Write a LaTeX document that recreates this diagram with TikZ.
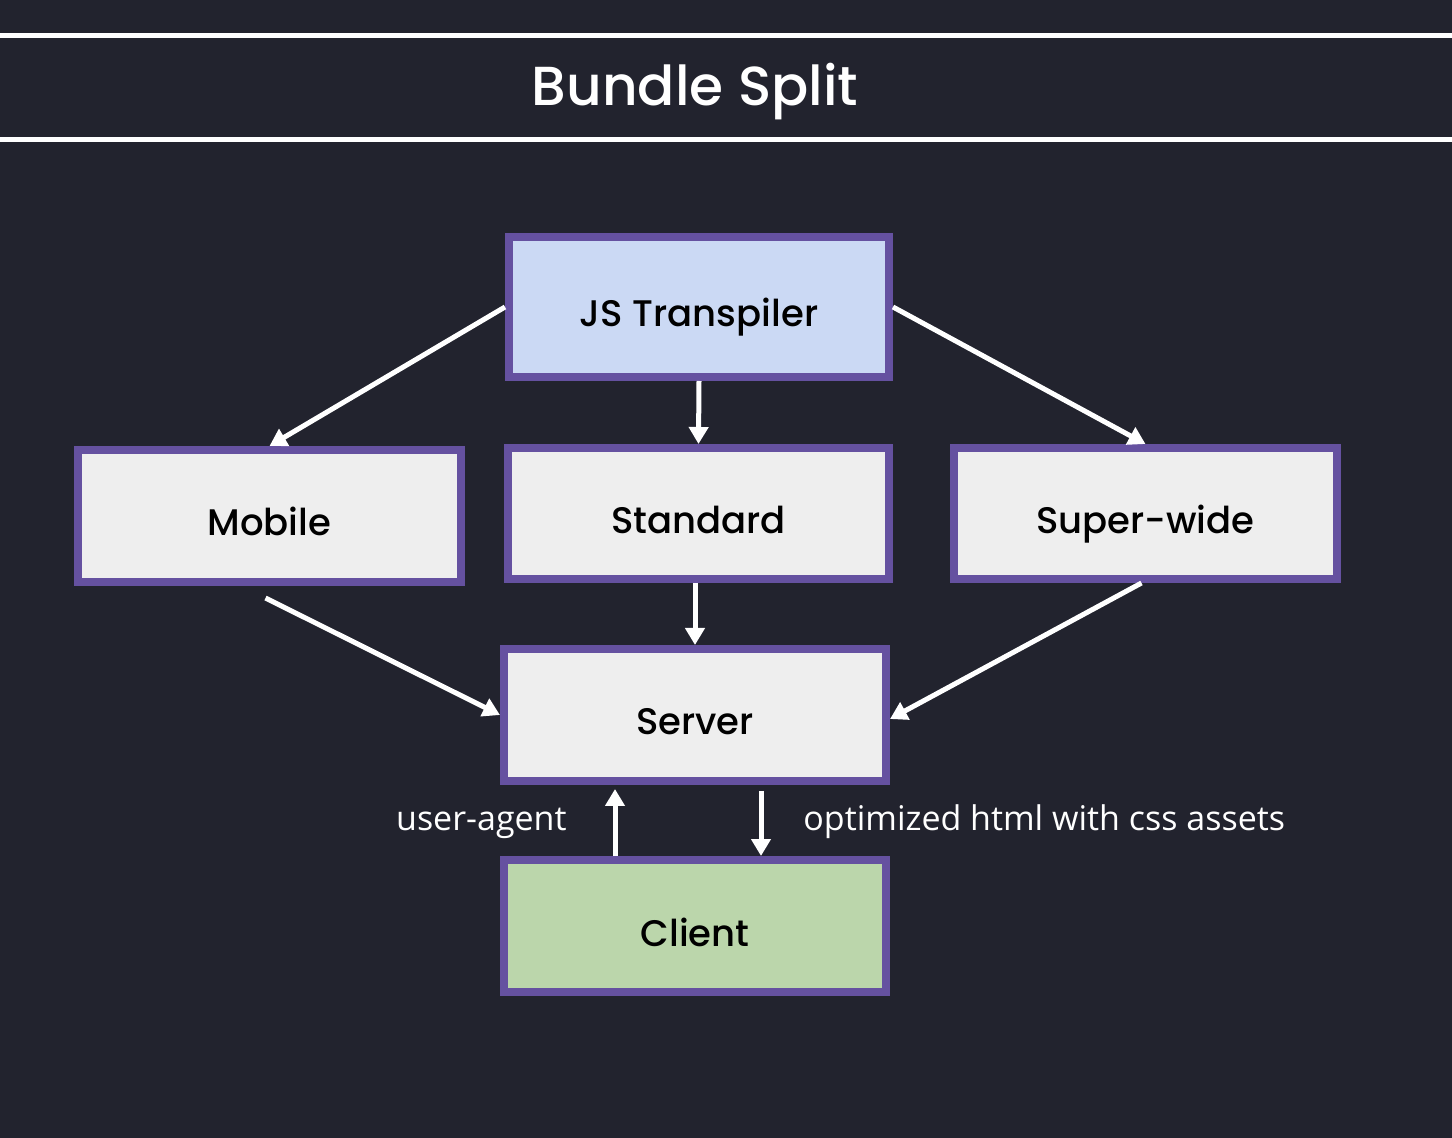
\documentclass[tikz,border=0pt]{standalone}
\usepackage{fontspec}
\setmainfont{Poppins}
\newfontfamily\medfont{Poppins Medium}
\newfontfamily\labelfont{Open Sans}
\usetikzlibrary{arrows.meta}
\definecolor{bg}{RGB}{34,35,46}
\definecolor{border}{RGB}{101,81,160}
\definecolor{bluefill}{RGB}{203,217,244}
\definecolor{greyfill}{RGB}{238,238,238}
\definecolor{greenfill}{RGB}{187,214,171}
\tikzset{
  box/.style={draw=border, line width=4pt, inner sep=0pt, text height=20pt, text depth=0pt,
    font=\medfont\fontsize{18.5}{22}\selectfont, text=black},
  conn/.style={draw=white, line width=2.5pt, -{Triangle[length=8.5pt,width=9.5pt]}},
  lbl/.style={text=white, font=\labelfont\fontsize{17}{20}\selectfont, inner sep=0pt}
}
\begin{document}
\begin{tikzpicture}[x=0.5pt,y=-0.5pt]
\fill[bg] (0,0) rectangle (1452,1138);
\useasboundingbox (0,0) rectangle (1452,1138);
\draw[white, line width=2.5pt] (0,35.5) -- (1452,35.5);
\draw[white, line width=2.5pt] (0,139.5) -- (1452,139.5);
\node[text=white, font=\medfont\fontsize{27.5}{32}\selectfont, anchor=base, inner sep=0pt] (title) at (695,106) {Bundle Split};

\node[box, fill=bluefill, minimum width=190pt, minimum height=70pt] (js) at (699,307) {JS Transpiler};
\node[box, fill=greyfill, minimum width=191.5pt, minimum height=66pt] (mob) at (269.5,516) {Mobile};
\node[box, fill=greyfill, minimum width=190.5pt, minimum height=65.5pt] (std) at (698.5,513.5) {Standard};
\node[box, fill=greyfill, minimum width=191.5pt, minimum height=65.5pt] (sw) at (1145.5,513.5) {Super-wide};
\node[box, fill=greyfill, minimum width=191pt, minimum height=66pt] (srv) at (695,715) {Server};
\node[box, fill=greenfill, minimum width=191pt, minimum height=66pt] (cli) at (695,926) {Client};

\draw[conn] (js.west) -- (mob.north);
\draw[conn] (js.south) -- (std.north);
\draw[conn] (js.east) -- (sw.north);
\draw[conn] ([xshift=-2pt,yshift=-6pt]mob.south) -- (srv.west);
\draw[conn] (std.south -| srv.north) -- (srv.north);
\draw[conn] ([xshift=-2pt]sw.south) -- ([yshift=-2pt]srv.east);
\draw[conn] (cli.north -| 615,0) -- ([yshift=-2pt]srv.south -| 615,0);
\draw[conn] ([yshift=-3pt]srv.south -| 761,0) -- (cli.north -| 761,0);

\node[lbl, anchor=base east] (ua) at (567,831) {user-agent};
\node[lbl, anchor=base west] (opt) at (803,831) {optimized html with css assets};
\end{tikzpicture}
\end{document}
